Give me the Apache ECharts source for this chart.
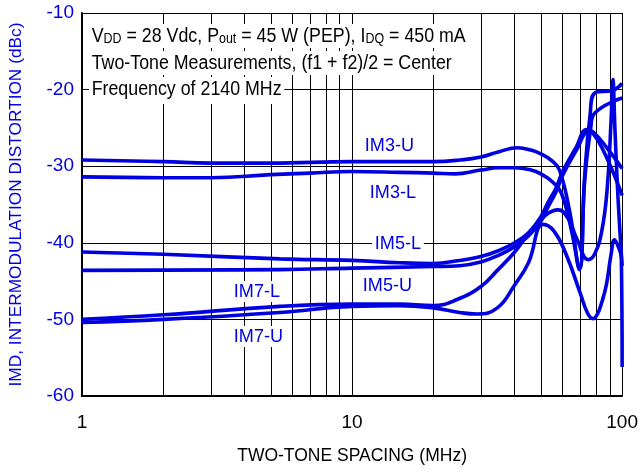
<!DOCTYPE html>
<html>
<head>
<meta charset="utf-8">
<script src="https://cdn.jsdelivr.net/npm/echarts@6/dist/echarts.min.js"></script>
<style>
html,body{margin:0;padding:0;background:#fff;}
#c{width:641px;height:472px;}
</style>
</head>
<body>
<div id="c"></div>
<script>
// ---- data (tone spacing MHz, dBc) ----
const IM3U = [[1,-29.2],[2,-29.4],[3,-29.6],[5,-29.6],[10,-29.4],[20,-29.4],[25,-29.2],[30,-28.8],[35,-28.1],[41,-27.6],[46,-27.9],[50,-28.4],[55,-29.3],[58.6,-30.5],[64,-36],[69.5,-43.3],[72.6,-31.5],[76,-23.5],[79.5,-20.4],[92.4,-20.1],[100,-19.2]];
const IM3L = [[1,-31.4],[2,-31.5],[3,-31.5],[5,-31.1],[7,-30.9],[10,-30.7],[15,-30.8],[20,-30.9],[24,-31.0],[30,-30.5],[35,-30.2],[40,-30.2],[46,-30.5],[50,-31.0],[55,-32.0],[59.7,-33.6],[65,-38.5],[69.5,-43.5],[72.6,-32],[76.5,-25],[79,-23.1],[100,-21.1]];
const IM5L = [[1,-41.2],[2,-41.5],[5.4,-42.1],[10,-42.3],[15,-42.6],[20,-42.7],[25,-42.3],[30,-41.8],[35,-41.0],[40,-40.0],[45,-38.7],[50,-36.6],[53,-34.8],[57,-32.8],[60,-30.8],[67.6,-27.5],[74,-25.2],[78,-25.5],[87.4,-27.5],[100,-30.3]];
const IM5U = [[1,-43.6],[5.4,-43.5],[10,-43.3],[20,-43.1],[25,-43.0],[30,-42.5],[35,-41.6],[40,-40.5],[45,-39.1],[50,-37.2],[53,-35.4],[57,-33.3],[60,-31.3],[68,-27.8],[75,-25.5],[78,-25.7],[87.4,-28.8],[100,-33.8]];
const IM7L = [[1,-50.0],[2,-49.4],[5.4,-48.3],[10,-48.0],[15,-48.0],[20,-48.2],[24.5,-47.4],[30,-45.7],[34.5,-43.6],[40,-41.2],[45,-38.8],[52,-36.4],[58,-35.7],[63,-36.8],[68,-39.5],[74.8,-42.2],[79,-41.5],[84,-38.5],[88,-33],[91,-24],[92.4,-18.7],[94,-25],[96.5,-34],[100,-43]];
const IM7U = [[1,-50.4],[2,-50.0],[5.4,-49.1],[10,-48.3],[15,-48.2],[20,-48.5],[25,-49.1],[29,-49.3],[34.5,-48.5],[40,-45.5],[45,-42.6],[51,-37.6],[56,-38.5],[62,-41.5],[70,-46.6],[74.5,-49.2],[78,-49.9],[81,-49.3],[84,-47.8],[87.4,-45.5],[91,-41.5],[93.7,-39.6],[97,-40.6],[99.3,-42],[100,-56.2]];
const minorGrid = [2,3,4,5,6,7,8,9,20,30,40,50,60,70,80,90];
const xTicks = [1,10,100];
const yTicks = [-60,-50,-40,-30,-20,-10];
const seriesNames = ['IM3-U','IM3-L','IM5-L','IM5-U','IM7-L','IM7-U'];
const annotation = ['V{s|DD} = 28 Vdc, P{s|out} = 45 W (PEP), I{s|DQ} = 450 mA','Two-Tone Measurements, (f1 + f2)/2 = Center','Frequency of 2140 MHz'];
const xTitle = 'TWO-TONE SPACING (MHz)';
const yTitle = 'IMD, INTERMODULATION DISTORTION (dBc)';

const FONT = "'Liberation Sans',Arial,sans-serif";
const BLUE = '#0000e0';
const chart = echarts.init(document.getElementById('c'), null, {renderer:'canvas'});

const allData = [IM3U, IM3L, IM5L, IM5U, IM7L, IM7U];
const series = allData.map((d, i) => ({
  name: seriesNames[i], type: 'line', data: d, smooth: 0.45,
  showSymbol: false, symbol: 'none', z: 5,
  lineStyle: {color: BLUE, width: 3.6}, animation: false
}));
series.push({
  type: 'line', data: [], silent: true, z: 1,
  markLine: {silent: true, symbol: 'none', animation: false, label: {show: false},
    lineStyle: {color: '#000', width: 1, type: 'solid'},
    data: minorGrid.map(v => ({xAxis: v}))}
});

const SX = 0.89;
const annText = (x, y, t, pad) => ({type: 'text', x: x, y: y, scaleX: SX, z: 50,
  style: {text: t, fill: '#000', font: '20px ' + FONT, backgroundColor: '#fff', padding: pad,
    rich: {s: {fontSize: 14, fontFamily: FONT, fill: '#000', verticalAlign: 'bottom', lineHeight: 12}}}});
const labelStyle = (x, y, t) => ({type: 'text', x: x, y: y, scaleX: 0.95, z: 50,
  style: {text: t, fill: BLUE, font: '19px ' + FONT, backgroundColor: '#fff', padding: [1,3,1,3]}});

chart.setOption({
  animation: false,
  grid: {left: 81, right: 15, top: 13, bottom: 76},
  xAxis: {type: 'log', logBase: 10, min: 1, max: 100,
    axisLine: {show: true, lineStyle: {color: '#000', width: 2}},
    axisTick: {show: false},
    splitLine: {show: true, lineStyle: {color: '#000', width: 1}},
    axisLabel: {color: '#000', fontFamily: FONT, fontSize: 19, margin: 17,
      formatter: v => xTicks.includes(Math.round(v)) ? String(Math.round(v)) : ''},
    name: xTitle, nameLocation: 'middle', nameGap: 51,
    nameTextStyle: {color: '#000', fontFamily: FONT, fontSize: 17.5}},
  yAxis: {type: 'value', min: -60, max: -10, interval: 10,
    axisLine: {show: true, lineStyle: {color: '#000', width: 2}},
    axisTick: {show: false},
    splitLine: {show: true, lineStyle: {color: '#000', width: 1}},
    axisLabel: {color: BLUE, fontFamily: FONT, fontSize: 19, margin: 8,
      formatter: v => yTicks.includes(v) ? String(v) : ''},
    name: yTitle, nameLocation: 'middle', nameGap: 57,
    nameTextStyle: {color: BLUE, fontFamily: FONT, fontSize: 17.3}},
  series: series,
  graphic: [
    annText(89, 24, annotation[0], [2,3,2,3]),
    annText(89, 51, annotation[1], [2,3,2,3]),
    annText(89, 77, annotation[2], [2,3,5,3]),
    labelStyle(362, 135, seriesNames[0]),
    labelStyle(367, 182, seriesNames[1]),
    labelStyle(372, 233, seriesNames[2]),
    labelStyle(360, 275, seriesNames[3]),
    labelStyle(231, 281, seriesNames[4]),
    labelStyle(231, 326, seriesNames[5])
  ]
});
</script>
</body>
</html>
